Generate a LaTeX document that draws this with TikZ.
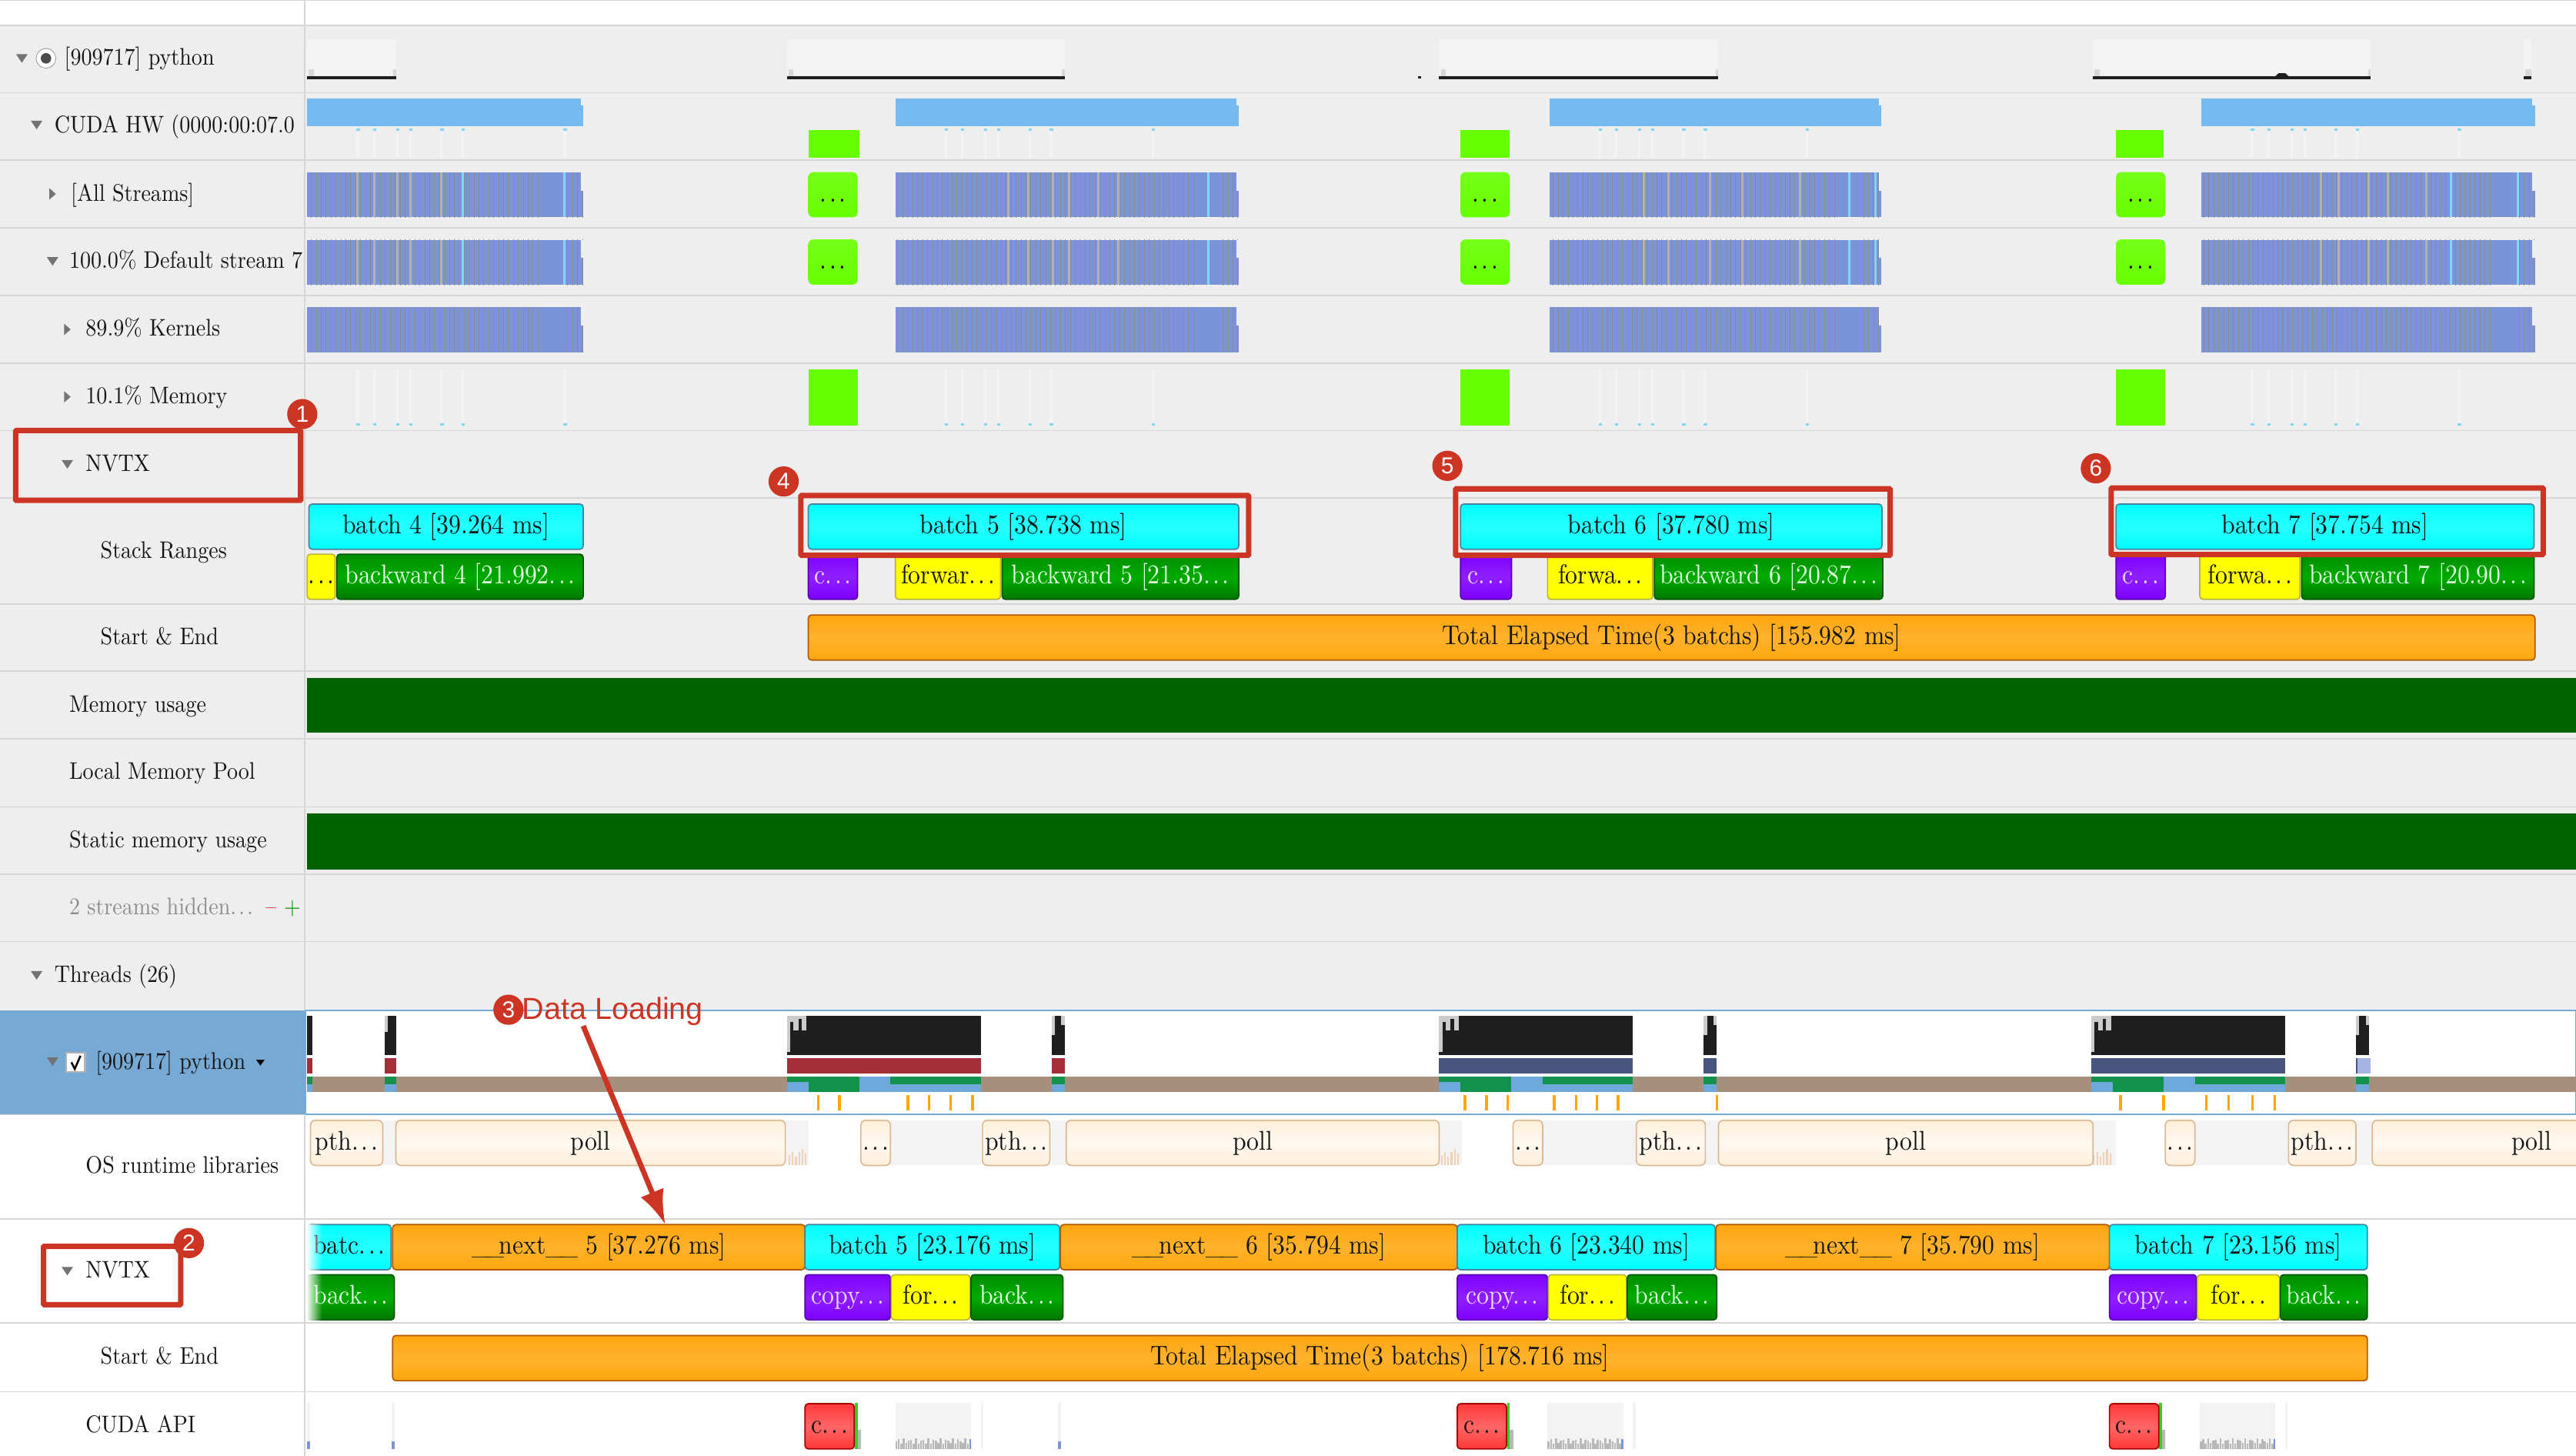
\documentclass[tikz,border=0pt]{standalone}
\usepackage{fontspec}
\usetikzlibrary{arrows.meta,patterns,fadings}
\newfontfamily\annofont{Liberation Sans}
\newfontfamily\lmten[Extension=.otf,FakeStretch=.9]{lmroman10-regular}
\newcommand\elli{.\kern.1em.\kern.1em.}
\newcommand\und{\_\kern-.17em}
\definecolor{rowgray}{HTML}{EEEEEE}
\definecolor{rowline}{HTML}{D6D6D6}
\definecolor{annored}{HTML}{CC3524}
\definecolor{threadblue}{HTML}{77A9D5}
\definecolor{hwblue}{HTML}{75BAF0}
\definecolor{bandblue}{HTML}{7B93D9}
\definecolor{limegreen}{HTML}{66FF00}
\definecolor{barorange}{HTML}{FFA60E}
\definecolor{midorange}{HTML}{FFB22C}
\definecolor{barpurple}{HTML}{7F00FF}
\definecolor{pollcream}{HTML}{FFEFD9}
\definecolor{pollmid}{HTML}{FFF9F0}
\definecolor{bartan}{HTML}{A68F7D}
\definecolor{statgreen}{HTML}{12924A}
\definecolor{statblue}{HTML}{6FA9DC}
\definecolor{statred}{HTML}{A52D38}
\definecolor{statnavy}{HTML}{47557F}
\definecolor{lightbg}{HTML}{F3F3F3}

\begin{document}
\begin{tikzpicture}[
    x=1pt, y=-1pt,
    rowlabel/.style={anchor=west, inner sep=0pt, text height=11.5pt, text depth=3pt,
      text=black!92, font=\lmten\fontsize{14.6}{16}\selectfont},
    bar/.style={draw, rounded corners=2pt, anchor=west, inner sep=0pt, outer sep=0pt,
      minimum width=#1pt, minimum height=27.5pt, text height=11.5pt, text depth=3pt,
      line width=.8pt, font=\lmten\fontsize{16.5}{18}\selectfont},
    cyanbar/.style={bar=#1, draw=cyan!60!black, top color=cyan, bottom color=cyan, middle color=cyan!85!white, text=black!92},
    orangebar/.style={bar=#1, draw=orange!70!black, top color=barorange, bottom color=barorange, middle color=midorange, text=black!92},
    yellowbar/.style={bar=#1, draw=yellow!70!black, top color=yellow, bottom color=yellow, text=black!92},
    greenbar/.style={bar=#1, draw=green!35!black, top color=green!55!black, bottom color=green!47!black, middle color=green!67!black, text=white!88!green},
    purplebar/.style={bar=#1, draw=barpurple!70!black, top color=barpurple, bottom color=barpurple, middle color=barpurple!88!white, text=white!85!barpurple},
    redbar/.style={bar=#1, draw=red!65!black, top color=red!78!white, bottom color=red!78!white, middle color=red!60!white, text=black!92},
    pollbar/.style={bar=#1, rounded corners=3pt, draw=brown!55!white, top color=pollcream, bottom color=pollcream, middle color=pollmid, text=black!92},
    limebar/.style={bar=#1, draw=none, top color=limegreen!90!white, bottom color=limegreen, rounded corners=3pt, text=black},
    redbox/.style={draw=annored, line width=3.3pt, rounded corners=.5pt},
    badge/.style={circle, fill=annored, text=white, inner sep=0pt, minimum size=18.4pt,
      font=\annofont\fontsize{14}{14}\selectfont},
    annoarrow/.style={draw=annored, line width=3.2pt}
    ]

  \useasboundingbox (0,0) rectangle (1568,886.07);
  \clip (0,0) rectangle (1568,886.07);

  % rows
  \fill[white] (0,0) rectangle (1568,886.07);
  \fill[rowgray] (0,15.3) rectangle (1568,615);
  \foreach \y in {.3,15.3,56.4,97.5,138.6,180,221,262,303,367.5,408.5,449.5,491,532,573,678,742,805,847}
    \draw[rowline, line width=.8pt] (0,\y) -- (1568,\y);
  \fill[threadblue] (0,615) rectangle (185.6,678);
  \draw[threadblue, line width=.8pt] (186,615) rectangle (1568,678);
  \draw[rowline, line width=1pt] (185.6,0) -- (185.6,615);
  \draw[rowline, line width=1pt] (185.6,678) -- (185.6,886.07);

  % row labels
  \node at (39,35.5) (lblpython) [rowlabel] {[909717] python};
  \node at (33,76.5) (lblhw) [rowlabel] {CUDA HW (0000:00:07.0};
  \node at (43,118) (lblall) [rowlabel] {[All Streams]};
  \node at (42,159) (lbldefault) [rowlabel] {100.0\% Default stream 7};
  \node at (52,200) (lblkernels) [rowlabel] {89.9\% Kernels};
  \node at (52,241.5) (lblmemory) [rowlabel] {10.1\% Memory};
  \node at (52,282.5) (lblnvtx) [rowlabel] {NVTX};
  \node at (61,335.5) (lblstack) [rowlabel] {Stack Ranges};
  \node at (61,388) (lblstart) [rowlabel] {Start \& End};
  \node at (42,429) (lblmemusage) [rowlabel] {Memory usage};
  \node at (42,470) (lblpool) [rowlabel] {Local Memory Pool};
  \node at (42,511.5) (lblstatic) [rowlabel] {Static memory usage};
  \node at (42,552.5) (lblhidden) [rowlabel, text=black!45] {2 streams hidden\elli};
  \node at (165,552.5) (lblminus) [rowlabel, anchor=center, text=red!80!black] {\textbf{–}};
  \node at (178,552.5) (lblplus) [rowlabel, anchor=center, text=green!60!black] {\textbf{+}};
  \node at (33,593.5) (lblthreads) [rowlabel] {Threads (26)};
  \node at (58,646.5) (lblthread) [rowlabel] {[909717] python};
  \node at (52,709.5) (lblos) [rowlabel] {OS runtime libraries};
  \node at (52,773.5) (lblnvtxb) [rowlabel] {NVTX};
  \node at (61,826) (lblstartb) [rowlabel] {Start \& End};
  \node at (52,867.5) (lblapi) [rowlabel] {CUDA API};

  % twisties
  \foreach \x/\y in {13.3/35.5,22.3/76,32/159,41/282.5,22.3/593.5,32/646,41/773.5}
    \fill[black!55] (\x-3.5,\y-2.5) -- (\x+3.5,\y-2.5) -- (\x,\y+2.7) -- cycle;
  \foreach \x/\y in {32/118,41/200.5,41/241.5}
    \fill[black!55] (\x-2,\y-3.5) -- (\x+2,\y) -- (\x-2,\y+3.5) -- cycle;
  \fill[black] (156,645) -- (161,645) -- (158.5,648.5) -- cycle;
  \node at (28,35.5) (radio) [circle, draw=black!40, fill=white, inner sep=0pt, minimum size=12pt] {};
  \fill[black!70] (radio) circle (3.2pt);
  \node at (46,646.5) (checkbox) [draw=black!30, fill=white, line width=1pt, inner sep=0pt, minimum size=11.5pt] {};
  \draw[black, line width=1.2pt] (43.5,646.5) -- (45.5,650.5) -- (49,642.5);

  % python graph
  \foreach \a/\b in {187/241,479/648,876/1046,1274/1443,1536/1541} {
    \fill[lightbg] (\a,24) rectangle (\b,47);
    \fill[black!88] (\a,46.4) rectangle (\b,48.3);
    \fill[black!15] (\a+1,42) rectangle (\a+4,46.4);
    \fill[black!15] (\b-1.5,42) rectangle (\b,46.4);
  }
  \fill[black!88] (1385,46.4) -- (1387,44.5) -- (1391,44.5) -- (1393,46.4) -- cycle;
  \fill[black!88] (863,46.4) rectangle (865,48);

  % hw row
  \foreach \a/\b in {187/355,545/754,943/1145,1340/1543} {
    \fill[hwblue] (\a,60) rectangle (\b,77);
    \fill[rowgray] (\b-1.5,60) rectangle (\b,64);
  }
  \foreach \a/\b in {492/523,889/919,1288/1317}
    \fill[limegreen] (\a,79) rectangle (\b,96);
  \foreach \a/\b in {187/355,545/754,943/1145,1340/1543} \foreach \y in {105,146,187} {
    \fill[bandblue] (\a,\y) rectangle (\b,\y+27.3);
    \fill[pattern=vertical lines, pattern color=black!45] (\a,\y) rectangle (\b-27,\y+27.3);
    \fill[pattern=vertical lines, pattern color=black!45] (\b-12,\y) rectangle (\b,\y+27.3);
    \fill[rowgray] (\b-1.5,\y) rectangle (\b,\y+11);
  }
  \foreach \y in {105,146} {
    \foreach \x in {217,227,241,249,268,613,625,640,650,668,680,1000,1015,1040,1060,1095,1412,1423,1441,1453,1476}
      \fill[black!30] (\x,\y) rectangle (\x+1.4,\y+27.3);
    \foreach \x in {281,343,735,1125,1141,1491,1532}
      \fill[cyan!50!white] (\x,\y) rectangle (\x+1.4,\y+27.3);
  }
  \foreach \s in {0,358,756,1153} \foreach \x in {30,40,54,62,81,94,156} {
    \fill[cyan!50!white] (187+\s+\x,78) rectangle ++(2,1.5);
    \fill[cyan!50!white] (187+\s+\x,257.5) rectangle ++(2,1.5);
    \fill[lightbg] (187+\s+\x,225) rectangle ++(1.5,32);
    \fill[lightbg] (187+\s+\x,80) rectangle ++(1.5,16);
  }
  \foreach \i/\x in {a/492,b/889,c/1288} {
    \node at (\x,118.5) (dots\i) [limebar=30] {\elli};
    \node at (\x,159.5) (dotsd\i) [limebar=30] {\elli};
    \fill[limegreen] (\x,225) rectangle (\x+30,259);
  }

  % memory
  \fill[green!39!black] (187,412.5) rectangle (1568,446);
  \fill[green!39!black] (187,495) rectangle (1568,529);

  % stack ranges
  \node at (188,320.5) (rbatch4) [cyanbar=167] {batch 4 [39.264 ms]};
  \node at (492,320.5) (rbatch5) [cyanbar=262] {batch 5 [38.738 ms]};
  \node at (889,320.5) (rbatch6) [cyanbar=256.5] {batch 6 [37.780 ms]};
  \node at (1288,320.5) (rbatch7) [cyanbar=254.5] {batch 7 [37.754 ms]};

  \node at (187,351) (rfwd4) [yellowbar=17] {\elli};
  \node at (205,351) (rback4) [greenbar=150] {backward 4 [21.992\elli};
  \node at (492,351) (rcopy5) [purplebar=30] {c\elli};
  \node at (545,351) (rfwd5) [yellowbar=64] {forwar\elli};
  \node at (610,351) (rback5) [greenbar=144] {backward 5 [21.35\elli};
  \node at (889,351) (rcopy6) [purplebar=31] {c\elli};
  \node at (942,351) (rfwd6) [yellowbar=64] {forwa\elli};
  \node at (1007,351) (rback6) [greenbar=139] {backward 6 [20.87\elli};
  \node at (1288,351) (rcopy7) [purplebar=30] {c\elli};
  \node at (1339,351) (rfwd7) [yellowbar=61] {forwa\elli};
  \node at (1401,351) (rback7) [greenbar=141.5] {backward 7 [20.90\elli};

  \node at (492,388) (rtotal) [orangebar=1051] {Total Elapsed Time(3 batchs) [155.982 ms]};

  % thread activity
  \fill[bartan] (187,655.3) rectangle (1568,664.4);
  \foreach \a/\b in {187/190,234/241}
    \fill[black!88] (\a,618) rectangle (\b,642);
  \fill[statred] (187,644) rectangle (190,653.5);
  \fill[statred] (234,644) rectangle (241,653.5);
  \fill[statgreen] (187,655.3) rectangle (190,660);
  \fill[statgreen] (234,655.3) rectangle (241,660);
  \fill[statblue] (187,660) rectangle (190,664.4);
  \fill[statblue] (234,660) rectangle (241,664.4);
  \fill[black!20] (234,618) rectangle (236,628);
  \foreach \s/\col in {0/statred,397/statnavy,794/statnavy} {
    \fill[black!88] (479+\s,618) rectangle (597+\s,642);
    \fill[black!20] (479+\s,618) rectangle (491+\s,627);
    \fill[black!88] (481+\s,622) rectangle (483+\s,627);
    \fill[black!88] (486+\s,620) rectangle (488+\s,627);
    \fill[black!20] (479+\s,618) rectangle (481+\s,640);
    \fill[black!88] (640+\s,618) rectangle (648+\s,642);
    \fill[black!20] (640+\s,618) rectangle (642+\s,630);
    \fill[black!20] (646+\s,618) rectangle (648+\s,624);
    \fill[\col] (479+\s,644) rectangle (597+\s,653.5);
    \fill[\col] (640+\s,644) rectangle (648+\s,653.5);
    \fill[statblue] (479+\s,655.3) rectangle (597+\s,664.4);
    \fill[statblue] (640+\s,655.3) rectangle (648+\s,664.4);
    \fill[statgreen] (479+\s,655.3) rectangle (492+\s,658.5);
    \fill[statgreen] (492+\s,655.3) rectangle (523+\s,664.4);
    \fill[statgreen] (542+\s,655.3) rectangle (597+\s,660);
    \fill[statgreen] (640+\s,655.3) rectangle (648+\s,660);
  }
  \fill[bandblue!70!white] (1435,644) rectangle (1443,653.5);
  \foreach \x in {498,511,552.7,565.5,578.7,591.9,891.7,904.9,917.7,946,959.3,972,985,1045,1290.7,1317,1343,1356.5,1371,1384.6}
    \fill[orange!70!yellow] (\x-.8,666.5) rectangle (\x+.8,676);

  % os runtime
  \foreach \a/\b in {233/241,478/492,542/597,640/649,876/890,939/996,1038/1046,1274/1288,1336/1393,1434/1444}
    \fill[lightbg] (\a,682) rectangle (\b,709);
  \foreach \s in {0,397,794} \foreach \x/\h in {480/6,482/8,484/5,486/8,488/10,490/7}
    \fill[orange!30!brown!35!white] (\x+\s,709) rectangle ++(1,-\h);
  \node at (189,695.5) (ospth4) [pollbar=44] {pth\elli};
  \node at (241,695.5) (ospoll5) [pollbar=237] {poll};
  \node at (524,695.5) (osdots5) [pollbar=18] {\elli};
  \node at (598,695.5) (ospth5) [pollbar=41] {pth\elli};
  \node at (649,695.5) (ospoll6) [pollbar=227] {poll};
  \node at (921,695.5) (osdots6) [pollbar=18] {\elli};
  \node at (996,695.5) (ospth6) [pollbar=42] {pth\elli};
  \node at (1046,695.5) (ospoll7) [pollbar=228] {poll};
  \node at (1318,695.5) (osdots7) [pollbar=18] {\elli};
  \node at (1393,695.5) (ospth7) [pollbar=41] {pth\elli};
  \node at (1444,695.5) (ospoll8) [pollbar=194] {poll};

  % thread nvtx
  \node at (187,759) (batch4) [cyanbar=51] {batc\elli};
  \node at (239,759) (next5) [orangebar=251] {\und\und next\und\_ 5 [37.276 ms]};
  \node at (490,759) (batch5) [cyanbar=155] {batch 5 [23.176 ms]};
  \node at (645.5,759) (next6) [orangebar=241.5] {\und\und next\und\_ 6 [35.794 ms]};
  \node at (887,759) (batch6) [cyanbar=157] {batch 6 [23.340 ms]};
  \node at (1044.5,759) (next7) [orangebar=239.5] {\und\und next\und\_ 7 [35.790 ms]};
  \node at (1284,759) (batch7) [cyanbar=157] {batch 7 [23.156 ms]};

  \node at (187,789.5) (back4) [greenbar=53] {back\elli};
  \node at (490,789.5) (copy5) [purplebar=52] {copy\elli};
  \node at (542.5,789.5) (fwd5) [yellowbar=48] {for\elli};
  \node at (591,789.5) (back5) [greenbar=56] {back\elli};
  \node at (887,789.5) (copy6) [purplebar=55] {copy\elli};
  \node at (942.5,789.5) (fwd6) [yellowbar=47.5] {for\elli};
  \node at (990.5,789.5) (back6) [greenbar=54.5] {back\elli};
  \node at (1284,789.5) (copy7) [purplebar=53] {copy\elli};
  \node at (1337.5,789.5) (fwd7) [yellowbar=50] {for\elli};
  \node at (1388,789.5) (back7) [greenbar=53] {back\elli};

  \fill[white, path fading=east] (186.5,745) rectangle (196,773.5);
  \fill[white, path fading=east] (186.5,775) rectangle (196,804);

  \node at (239,826.5) (total) [orangebar=1202] {Total Elapsed Time(3 batchs) [178.716 ms]};

  % cuda api
  \foreach \x in {187,238.5,644} {
    \fill[lightbg] (\x,854) rectangle (\x+1.6,882);
    \fill[bandblue] (\x,877) rectangle (\x+1.6,882);
  }
  \foreach \s/\i in {0/a,397/b,794/c} {
    \fill[lightbg] (545+\s,854) rectangle (591+\s,882);
    \fill[lightbg] (597+\s,854) rectangle (598.5+\s,882);
    \foreach \x in {0,1.5,...,43.5}
      \fill[black!28] (545+\s+\x,882) rectangle ++(1.2,{-(5+1.8*sin(\x*97))});
    \fill[bandblue] (590+\s,876) rectangle (591+\s,882);
    \fill[green!65!gray] (520.3+\s,854) rectangle (522+\s,882);
    \fill[black!28] (522+\s,870) rectangle (524+\s,882);
    \node at (490+\s,868) (api\i) [redbar=30] {c\elli};
  }

  % annotations
  \draw[redbox] (9.5,262) rectangle (183,304.5);
  \draw[redbox] (26.5,758.5) rectangle (110,794);
  \draw[redbox] (487.5,301.5) rectangle (760,338);
  \draw[redbox] (886,297.5) rectangle (1150.5,338);
  \draw[redbox] (1285,297) rectangle (1548,337.5);

  \node at (184,252) (badge1) [badge] {1};
  \node at (115,756.5) (badge2) [badge] {2};
  \node at (477,293) (badge4) [badge] {4};
  \node at (881,283.5) (badge5) [badge] {5};
  \node at (1275.7,285) (badge6) [badge] {6};

  \node at (309.5,614.5) (badge3) [badge] {3};
  \node at (373,615.5) (dataload) [inner sep=0pt, text=annored, font=\annofont\fontsize{18.5}{20}\selectfont] {Data Loading};
  \path [-{Latex[length=21pt,width=15pt]}] ([xshift=-18pt]dataload.south) edge [annoarrow] ([xshift=40.5pt]next5.north);

\end{tikzpicture}
\end{document}
